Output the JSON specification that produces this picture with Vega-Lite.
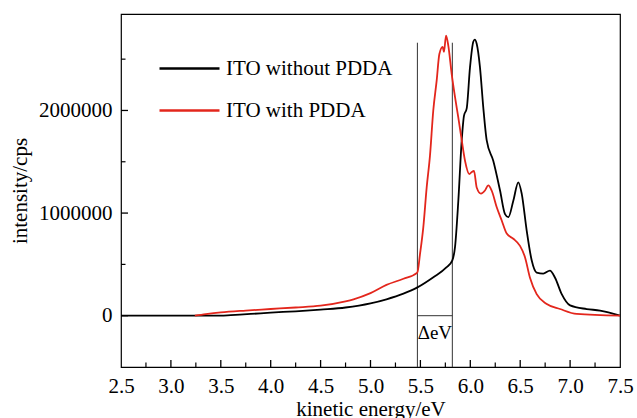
{
  "$schema": "https://vega.github.io/schema/vega-lite/v6.json",
  "autosize": "none",
  "padding": {"left": 121, "top": 14, "right": 17, "bottom": 51},
  "width": 499,
  "height": 353,
  "background": "white",
  "config": {
    "font": "Liberation Serif, Times New Roman, serif",
    "view": {"stroke": "black", "strokeWidth": 1.2},
    "axis": {"grid": false, "ticks": false, "domain": false, "labelColor": "black", "titleColor": "black", "labelFont": "Liberation Serif, Times New Roman, serif", "titleFont": "Liberation Serif, Times New Roman, serif", "labelFontSize": 21, "titleFontSize": 21, "titleFontWeight": "normal"},
    "legend": {"labelFont": "Liberation Serif, Times New Roman, serif", "labelFontSize": 21, "labelColor": "black", "labelLimit": 400}
  },
  "datasets": {
    "curves": [
      {"series": "ITO without PDDA", "x": 2.5, "y": 0},
      {"series": "ITO without PDDA", "x": 3.5, "y": 0},
      {"series": "ITO without PDDA", "x": 3.6, "y": 6000},
      {"series": "ITO without PDDA", "x": 3.8, "y": 17000},
      {"series": "ITO without PDDA", "x": 4.0, "y": 30000},
      {"series": "ITO without PDDA", "x": 4.25, "y": 43000},
      {"series": "ITO without PDDA", "x": 4.5, "y": 60000},
      {"series": "ITO without PDDA", "x": 4.75, "y": 80000},
      {"series": "ITO without PDDA", "x": 5.0, "y": 120000},
      {"series": "ITO without PDDA", "x": 5.16, "y": 160000},
      {"series": "ITO without PDDA", "x": 5.33, "y": 215000},
      {"series": "ITO without PDDA", "x": 5.47, "y": 276000},
      {"series": "ITO without PDDA", "x": 5.63, "y": 375000},
      {"series": "ITO without PDDA", "x": 5.76, "y": 470000},
      {"series": "ITO without PDDA", "x": 5.82, "y": 540000},
      {"series": "ITO without PDDA", "x": 5.847, "y": 670000},
      {"series": "ITO without PDDA", "x": 5.88, "y": 1120000},
      {"series": "ITO without PDDA", "x": 5.914, "y": 1710000},
      {"series": "ITO without PDDA", "x": 5.937, "y": 1950000},
      {"series": "ITO without PDDA", "x": 5.964, "y": 2020000},
      {"series": "ITO without PDDA", "x": 5.997, "y": 2420000},
      {"series": "ITO without PDDA", "x": 6.03, "y": 2670000},
      {"series": "ITO without PDDA", "x": 6.045, "y": 2690000},
      {"series": "ITO without PDDA", "x": 6.064, "y": 2650000},
      {"series": "ITO without PDDA", "x": 6.097, "y": 2420000},
      {"series": "ITO without PDDA", "x": 6.13, "y": 2030000},
      {"series": "ITO without PDDA", "x": 6.164, "y": 1710000},
      {"series": "ITO without PDDA", "x": 6.23, "y": 1510000},
      {"series": "ITO without PDDA", "x": 6.298, "y": 1220000},
      {"series": "ITO without PDDA", "x": 6.348, "y": 990000},
      {"series": "ITO without PDDA", "x": 6.381, "y": 960000},
      {"series": "ITO without PDDA", "x": 6.431, "y": 1120000},
      {"series": "ITO without PDDA", "x": 6.481, "y": 1300000},
      {"series": "ITO without PDDA", "x": 6.515, "y": 1190000},
      {"series": "ITO without PDDA", "x": 6.565, "y": 830000},
      {"series": "ITO without PDDA", "x": 6.615, "y": 540000},
      {"series": "ITO without PDDA", "x": 6.665, "y": 420000},
      {"series": "ITO without PDDA", "x": 6.731, "y": 410000},
      {"series": "ITO without PDDA", "x": 6.798, "y": 440000},
      {"series": "ITO without PDDA", "x": 6.849, "y": 370000},
      {"series": "ITO without PDDA", "x": 6.916, "y": 210000},
      {"series": "ITO without PDDA", "x": 7.0, "y": 100000},
      {"series": "ITO without PDDA", "x": 7.166, "y": 65000},
      {"series": "ITO without PDDA", "x": 7.3, "y": 50000},
      {"series": "ITO without PDDA", "x": 7.5, "y": 0},
      {"series": "ITO with PDDA", "x": 3.24, "y": 0},
      {"series": "ITO with PDDA", "x": 3.35, "y": 15000},
      {"series": "ITO with PDDA", "x": 3.5, "y": 32000},
      {"series": "ITO with PDDA", "x": 3.75, "y": 50000},
      {"series": "ITO with PDDA", "x": 4.0, "y": 65000},
      {"series": "ITO with PDDA", "x": 4.25, "y": 80000},
      {"series": "ITO with PDDA", "x": 4.5, "y": 98000},
      {"series": "ITO with PDDA", "x": 4.75, "y": 140000},
      {"series": "ITO with PDDA", "x": 4.83, "y": 160000},
      {"series": "ITO with PDDA", "x": 5.0, "y": 220000},
      {"series": "ITO with PDDA", "x": 5.16, "y": 300000},
      {"series": "ITO with PDDA", "x": 5.33, "y": 360000},
      {"series": "ITO with PDDA", "x": 5.469, "y": 420000},
      {"series": "ITO with PDDA", "x": 5.496, "y": 600000},
      {"series": "ITO with PDDA", "x": 5.529, "y": 860000},
      {"series": "ITO with PDDA", "x": 5.563, "y": 1250000},
      {"series": "ITO with PDDA", "x": 5.596, "y": 1560000},
      {"series": "ITO with PDDA", "x": 5.629, "y": 2000000},
      {"series": "ITO with PDDA", "x": 5.663, "y": 2290000},
      {"series": "ITO with PDDA", "x": 5.69, "y": 2550000},
      {"series": "ITO with PDDA", "x": 5.723, "y": 2620000},
      {"series": "ITO with PDDA", "x": 5.736, "y": 2570000},
      {"series": "ITO with PDDA", "x": 5.757, "y": 2730000},
      {"series": "ITO with PDDA", "x": 5.78, "y": 2630000},
      {"series": "ITO with PDDA", "x": 5.813, "y": 2360000},
      {"series": "ITO with PDDA", "x": 5.847, "y": 2130000},
      {"series": "ITO with PDDA", "x": 5.88, "y": 1930000},
      {"series": "ITO with PDDA", "x": 5.914, "y": 1710000},
      {"series": "ITO with PDDA", "x": 5.947, "y": 1510000},
      {"series": "ITO with PDDA", "x": 5.99, "y": 1380000},
      {"series": "ITO with PDDA", "x": 6.014, "y": 1400000},
      {"series": "ITO with PDDA", "x": 6.037, "y": 1410000},
      {"series": "ITO with PDDA", "x": 6.064, "y": 1250000},
      {"series": "ITO with PDDA", "x": 6.107, "y": 1190000},
      {"series": "ITO with PDDA", "x": 6.147, "y": 1220000},
      {"series": "ITO with PDDA", "x": 6.18, "y": 1270000},
      {"series": "ITO with PDDA", "x": 6.214, "y": 1220000},
      {"series": "ITO with PDDA", "x": 6.264, "y": 1060000},
      {"series": "ITO with PDDA", "x": 6.314, "y": 930000},
      {"series": "ITO with PDDA", "x": 6.365, "y": 800000},
      {"series": "ITO with PDDA", "x": 6.431, "y": 750000},
      {"series": "ITO with PDDA", "x": 6.498, "y": 680000},
      {"series": "ITO with PDDA", "x": 6.548, "y": 570000},
      {"series": "ITO with PDDA", "x": 6.598, "y": 370000},
      {"series": "ITO with PDDA", "x": 6.665, "y": 210000},
      {"series": "ITO with PDDA", "x": 6.766, "y": 114000},
      {"series": "ITO with PDDA", "x": 6.899, "y": 65000},
      {"series": "ITO with PDDA", "x": 7.066, "y": 17000},
      {"series": "ITO with PDDA", "x": 7.5, "y": 0}
    ],
    "vlines": [
      {"x": 5.47, "y": -500000, "y2": 2660000},
      {"x": 5.82, "y": -500000, "y2": 2660000}
    ],
    "hline": [
      {"x": 5.47, "x2": 5.82, "y": 0}
    ],
    "label": [
      {"x": 5.645, "y": -170000, "text": "ΔeV"}
    ],
    "xmajor": [{"v": 3.0}, {"v": 3.5}, {"v": 4.0}, {"v": 4.5}, {"v": 5.0}, {"v": 5.5}, {"v": 6.0}, {"v": 6.5}, {"v": 7.0}],
    "xminor": [{"v": 2.75}, {"v": 3.25}, {"v": 3.75}, {"v": 4.25}, {"v": 4.75}, {"v": 5.25}, {"v": 5.75}, {"v": 6.25}, {"v": 6.75}, {"v": 7.25}],
    "ymajor": [{"v": 0}, {"v": 1000000}, {"v": 2000000}],
    "yminor": [{"v": 500000}, {"v": 1500000}, {"v": 2500000}]
  },
  "layer": [
    {
      "data": {"name": "vlines"},
      "mark": {"type": "rule", "color": "#333333", "strokeWidth": 1},
      "encoding": {
        "x": {"field": "x", "type": "quantitative", "scale": {"domain": [2.5, 7.5], "nice": false, "zero": false},
          "axis": {"title": "kinetic energy/eV", "values": [2.5, 3, 3.5, 4, 4.5, 5, 5.5, 6, 6.5, 7, 7.5],
            "format": ".1f", "labelPadding": 8, "titlePadding": 2, "labelFlush": false}},
        "y": {"field": "y", "type": "quantitative", "scale": {"domain": [-500000, 2940000], "nice": false, "zero": false},
          "axis": {"title": "intensity/cps", "values": [0, 1000000, 2000000],
            "format": "d", "labelPadding": 9, "titlePadding": 8}},
        "y2": {"field": "y2"}
      }
    },
    {
      "data": {"name": "hline"},
      "mark": {"type": "rule", "color": "#333333", "strokeWidth": 1},
      "encoding": {
        "x": {"field": "x", "type": "quantitative"},
        "x2": {"field": "x2"},
        "y": {"field": "y", "type": "quantitative"}
      }
    },
    {
      "data": {"name": "label"},
      "mark": {"type": "text", "font": "Liberation Serif, Times New Roman, serif", "fontSize": 19, "color": "black", "baseline": "middle", "align": "center"},
      "encoding": {
        "x": {"field": "x", "type": "quantitative"},
        "y": {"field": "y", "type": "quantitative"},
        "text": {"field": "text"}
      }
    },
    {
      "data": {"name": "curves"},
      "mark": {"type": "line", "strokeWidth": 1.8, "interpolate": "monotone"},
      "encoding": {
        "x": {"field": "x", "type": "quantitative"},
        "y": {"field": "y", "type": "quantitative"},
        "color": {"field": "series", "type": "nominal",
          "scale": {"domain": ["ITO without PDDA", "ITO with PDDA"], "range": ["#000000", "#e3261c"]},
          "legend": {"title": null, "orient": "none", "legendX": 57, "legendY": 43, "padding": 0,
            "symbolType": "M-3,0H3", "symbolSize": 400, "symbolStrokeWidth": 2.4, "symbolFillColor": "transparent",
            "labelOffset": 25, "rowPadding": 20}},
        "order": {"field": "x", "type": "quantitative"}
      }
    },
    {
      "data": {"name": "xmajor"},
      "mark": {"type": "tick", "orient": "vertical", "size": 14, "thickness": 1.3, "color": "black", "opacity": 1, "clip": true},
      "encoding": {
        "x": {"field": "v", "type": "quantitative"},
        "y": {"datum": -500000, "type": "quantitative"}
      }
    },
    {
      "data": {"name": "xminor"},
      "mark": {"type": "tick", "orient": "vertical", "size": 9, "thickness": 1.2, "color": "black", "opacity": 1, "clip": true},
      "encoding": {
        "x": {"field": "v", "type": "quantitative"},
        "y": {"datum": -500000, "type": "quantitative"}
      }
    },
    {
      "data": {"name": "ymajor"},
      "mark": {"type": "tick", "orient": "horizontal", "size": 14, "thickness": 1.3, "color": "black", "opacity": 1, "clip": true},
      "encoding": {
        "y": {"field": "v", "type": "quantitative"},
        "x": {"datum": 2.5, "type": "quantitative"}
      }
    },
    {
      "data": {"name": "yminor"},
      "mark": {"type": "tick", "orient": "horizontal", "size": 9, "thickness": 1.2, "color": "black", "opacity": 1, "clip": true},
      "encoding": {
        "y": {"field": "v", "type": "quantitative"},
        "x": {"datum": 2.5, "type": "quantitative"}
      }
    }
  ]
}
